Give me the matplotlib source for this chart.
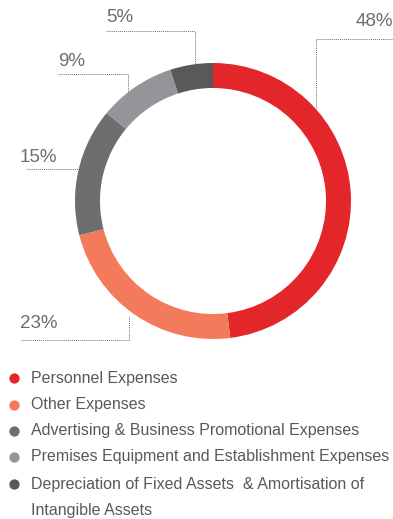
import matplotlib
matplotlib.use("Agg")
import matplotlib.pyplot as plt

plt.rcParams["font.family"] = ["Liberation Sans", "DejaVu Sans"]

# expense shares, clockwise from 12 o'clock
categories = [
    "Personnel Expenses",
    "Other Expenses",
    "Advertising & Business Promotional Expenses",
    "Premises Equipment and Establishment Expenses",
    "Depreciation of Fixed Assets  & Amortisation of",
]
last_line = "Intangible Assets"
shares = [48, 23, 15, 9, 5]
colors = ["#E3262A", "#F37B5C", "#6D6E70", "#939598", "#58595B"]

W, H = 393, 519
fig = plt.figure(figsize=(W / 100, H / 100), dpi=100)
ax = fig.add_axes([0, 0, 1, 1])


def y(py):
    # pixel rows counted from the top
    return H - py


cx, cy, r = 213, y(201), 138
ax.pie(shares, colors=colors, startangle=90, counterclock=False,
       center=(cx, cy), radius=r, frame=True,
       wedgeprops=dict(width=25, linewidth=0))
ax.set_xlim(0, W)
ax.set_ylim(0, H)
ax.set_aspect("equal")
ax.axis("off")

# percentage callouts: text position and leader polyline
label_pos = [(393, 22, "right"), (20, 323, "left"), (20, 157, "left"),
             (58, 62, "left"), (106, 18, "left")]
leaders = [
    [(393, 39), (316, 39), (316, 110)],
    [(21, 340), (129, 340), (129, 316)],
    [(26, 169), (78, 169)],
    [(58, 74), (128, 74), (128, 92)],
    [(106, 31), (195, 31), (195, 64)],
]
for s, (tx, ty, ha), pts in zip(shares, label_pos, leaders):
    ax.text(tx, y(ty), f"{s}%", fontsize=13.5, color="#6D6E70",
            ha=ha, va="center")
    xs = [p[0] for p in pts]
    ys = [y(p[1]) for p in pts]
    ax.plot(xs, ys, linestyle=(0, (1, 1)), color="#6D6E70", lw=0.7)

# legend
row_y = [378, 405, 431, 457, 484]
for lab, c, ry in zip(categories, colors, row_y):
    ax.scatter([14], [y(ry)], s=55, color=c, linewidths=0)
    ax.text(31, y(ry), lab, fontsize=11.5, color="#58595B",
            ha="left", va="center")
ax.text(31, y(510), last_line, fontsize=11.5, color="#58595B",
        ha="left", va="center")

fig.savefig("out.png", dpi=100)
